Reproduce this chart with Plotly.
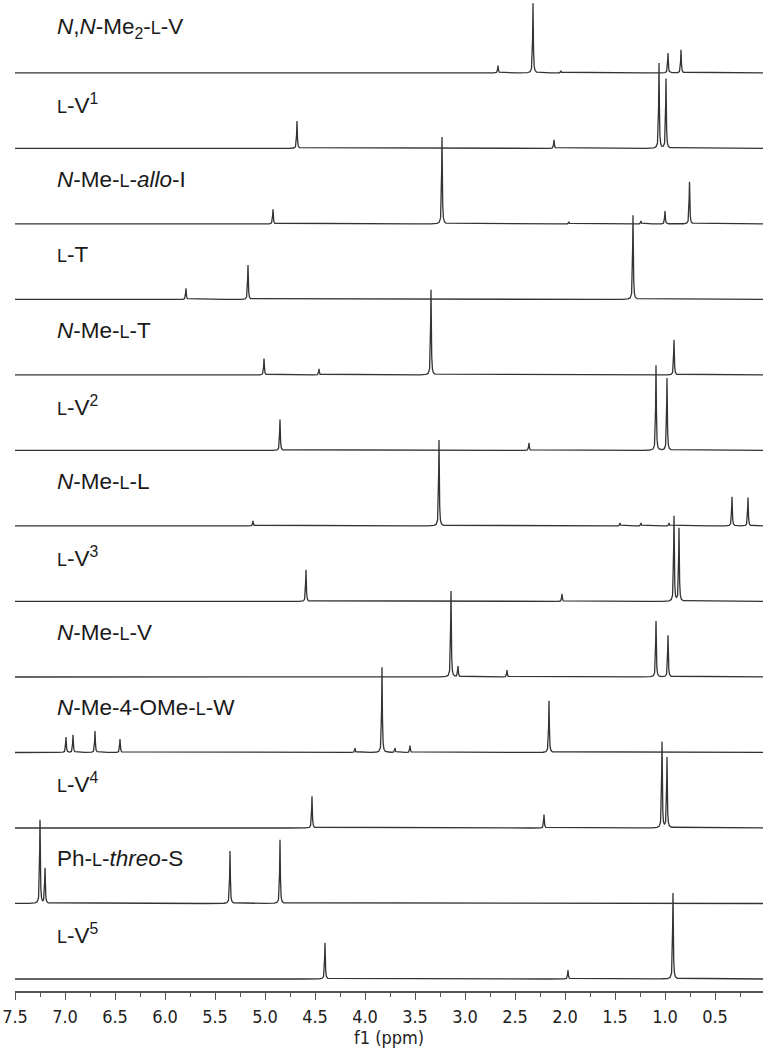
import numpy as np
import plotly.graph_objects as go

# peak lists (ppm, relative height; 100 = tallest)
nnme2_v_ppm = [2.67, 2.32, 2.04, 0.97, 0.84]
nnme2_v_int = [8.5, 81, 2.5, 23, 27]

v1_ppm = [4.68, 2.11, 1.06, 0.99]
v1_int = [32, 10, 99, 81]

nme_allo_i_ppm = [4.92, 3.23, 1.96, 1.24, 1.00, 0.755]
nme_allo_i_int = [17, 101, 2.5, 3.5, 15, 49]

t_ppm = [5.79, 5.17, 1.32]
t_int = [13, 40, 98]

nme_t_ppm = [5.01, 4.46, 3.34, 0.91]
nme_t_int = [19, 7, 99, 41]

v2_ppm = [4.85, 2.36, 1.09, 0.98]
v2_int = [36, 9, 99, 84]

nme_l_ppm = [5.12, 3.26, 1.45, 1.24, 0.96, 0.33, 0.17]
nme_l_int = [6, 100, 3.5, 3.5, 3.5, 34, 33]

v3_ppm = [4.59, 2.03, 0.91, 0.86]
v3_int = [37, 9, 99, 85]

nme_v_ppm = [3.14, 3.07, 2.58, 1.09, 0.97]
nme_v_int = [100, 12.5, 8, 65, 48.5]

nme_ome_w_ppm = [6.99, 6.92, 6.70, 6.45, 4.10, 3.83, 3.70, 3.55, 2.16]
nme_ome_w_int = [18, 20.5, 25, 15.5, 5, 99, 5, 8, 60]

v4_ppm = [4.53, 2.21, 1.03, 0.98]
v4_int = [37, 15.5, 100, 82]

ph_threo_s_ppm = [7.25, 7.20, 5.35, 4.85]
ph_threo_s_int = [97, 41, 61, 74]

v5_ppm = [4.40, 1.97, 0.92]
v5_int = [42, 10.5, 100]

SC = "<span style='font-size:18px'>L</span>"  # small-caps L
labels = [
    f"<i>N</i>,<i>N</i>-Me<sub>2</sub>-{SC}-V",
    f"{SC}-V<sup>1</sup>",
    f"<i>N</i>-Me-{SC}-<i>allo</i>-I",
    f"{SC}-T",
    f"<i>N</i>-Me-{SC}-T",
    f"{SC}-V<sup>2</sup>",
    f"<i>N</i>-Me-{SC}-L",
    f"{SC}-V<sup>3</sup>",
    f"<i>N</i>-Me-{SC}-V",
    f"<i>N</i>-Me-4-OMe-{SC}-W",
    f"{SC}-V<sup>4</sup>",
    f"Ph-{SC}-<i>threo</i>-S",
    f"{SC}-V<sup>5</sup>",
]
spectra = [
    (nnme2_v_ppm, nnme2_v_int),
    (v1_ppm, v1_int),
    (nme_allo_i_ppm, nme_allo_i_int),
    (t_ppm, t_int),
    (nme_t_ppm, nme_t_int),
    (v2_ppm, v2_int),
    (nme_l_ppm, nme_l_int),
    (v3_ppm, v3_int),
    (nme_v_ppm, nme_v_int),
    (nme_ome_w_ppm, nme_ome_w_int),
    (v4_ppm, v4_int),
    (ph_threo_s_ppm, ph_threo_s_int),
    (v5_ppm, v5_int),
]

OFFSET = 87.8   # vertical stacking step
GAMMA = 0.004   # lorentzian half width (ppm)
grid = np.arange(0.0, 7.5005, 0.001)

fig = go.Figure()
n = len(spectra)
for i, (ppm, inten) in enumerate(spectra):
    base = (n - 1 - i) * OFFSET
    y = np.zeros_like(grid)
    for p, h in zip(ppm, inten):
        y += h * GAMMA**2 / ((grid - p) ** 2 + GAMMA**2)
    fig.add_trace(go.Scatter(
        x=grid, y=y + base, mode="lines",
        line=dict(color="#333333", width=1.3),
        hoverinfo="skip", showlegend=False,
    ))
    fig.add_annotation(
        x=7.1, y=base + 52, xref="x", yref="y",
        text=labels[i], showarrow=False,
        xanchor="left", yanchor="middle",
        font=dict(family="Liberation Sans, Arial", size=22.5, color="#1a1a1a"),
    )

axis_font = dict(family="DejaVu Sans Condensed, DejaVu Sans", size=18, color="#222")

# axis title as a paper annotation so its height is exact
fig.add_annotation(
    x=0.5, y=-0.047, xref="paper", yref="paper",
    text="f1 (ppm)", showarrow=False, xanchor="center", yanchor="middle",
    font=dict(family="DejaVu Sans Condensed, DejaVu Sans", size=18, color="#222"),
)

fig.update_layout(
    width=767, height=1050,
    margin=dict(l=15, r=4, t=0, b=59),
    plot_bgcolor="white", paper_bgcolor="white",
    xaxis=dict(
        range=[7.5, 0.02],
        tickmode="linear", tick0=0.5, dtick=0.5, tickformat=".1f",
        ticks="outside", ticklen=7, tickwidth=1.3, tickcolor="#555",
        ticklabelstandoff=2,
        showline=True, linecolor="#555", linewidth=1.5,
        showgrid=False, zeroline=False,
        minor=dict(dtick=0.25, tick0=0.25, ticks="outside", ticklen=4,
                   tickwidth=1.2, tickcolor="#555", showgrid=False),
        tickfont=axis_font,
    ),
    yaxis=dict(range=[-13.95, 1138.4], visible=False),
)

fig.write_html("out.html", config={"displayModeBar": False},
               post_script="document.body.style.margin='0px';")
